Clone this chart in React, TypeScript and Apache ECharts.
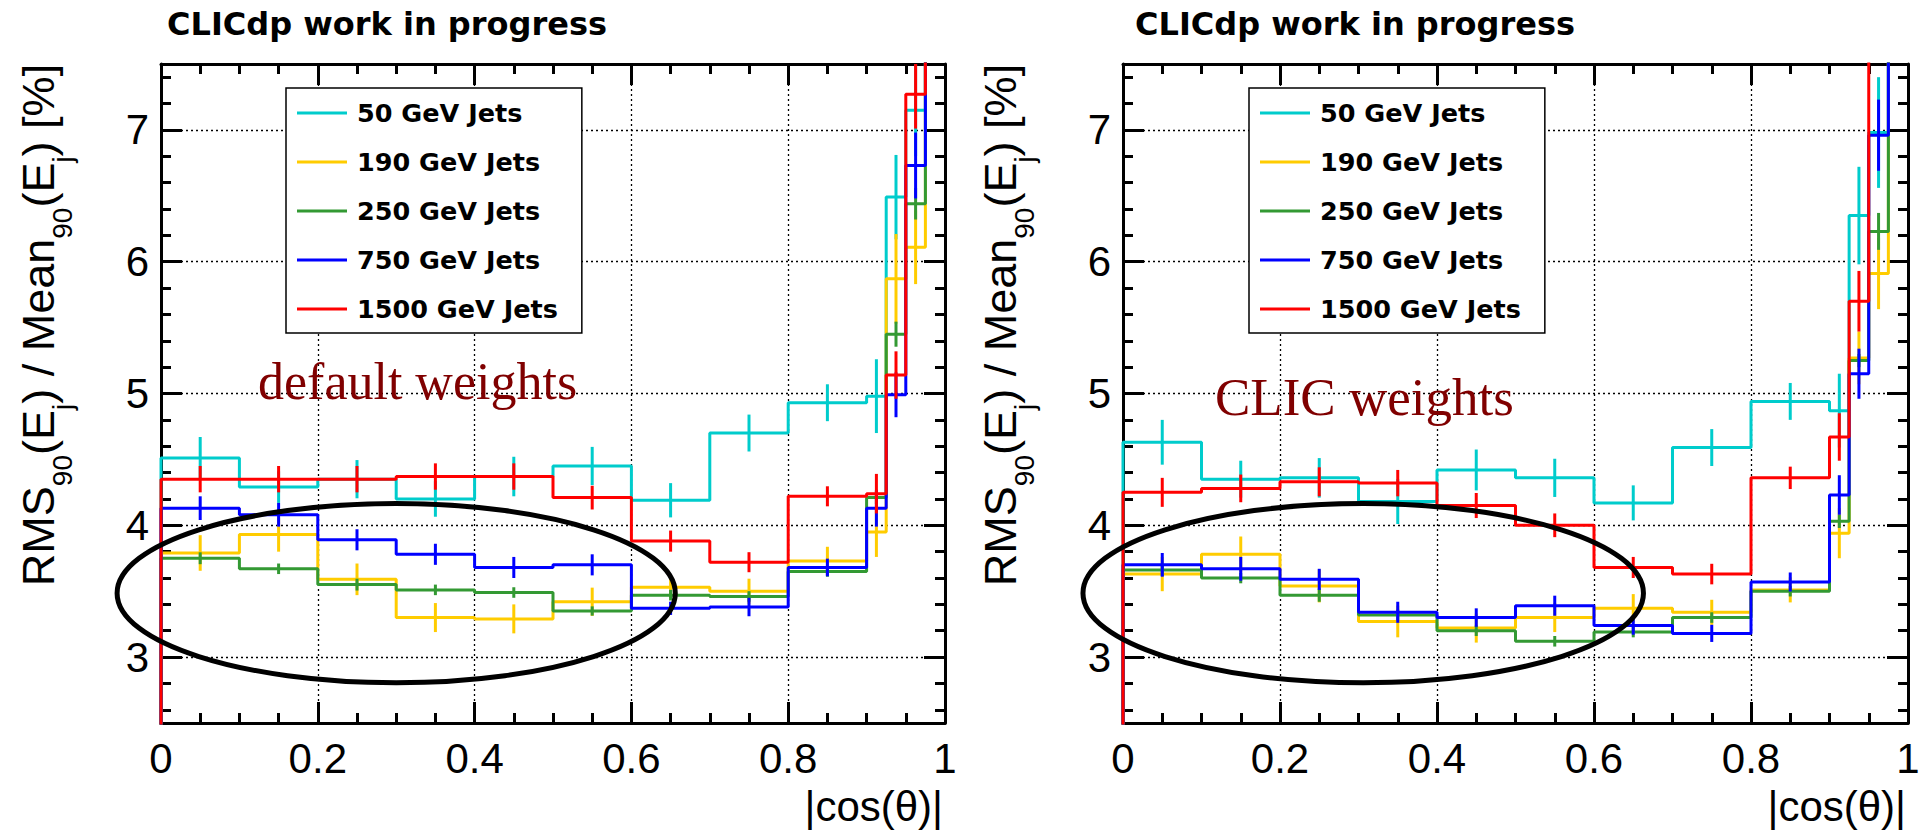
import React, { useEffect, useRef } from 'react';
import * as echarts from 'echarts';

// ---- data -------------------------------------------------------------
const BIN_EDGES = [0, 0.1, 0.2, 0.3, 0.4, 0.5, 0.6, 0.7, 0.8, 0.9, 0.925, 0.95, 0.975, 1.0];
const SERIES_NAMES = ['50 GeV Jets', '190 GeV Jets', '250 GeV Jets', '750 GeV Jets', '1500 GeV Jets'];
const SERIES_COLORS = ['#00cccc', '#ffcc00', '#339933', '#0000ff', '#ff0000'];
const Y_MIN = 2.5;
const Y_MAX = 7.5;
const X_MIN = 0;
const X_MAX = 1;
const PANEL_TITLES = ['CLICdp work in progress', 'CLICdp work in progress'];
const PANEL_NOTES = ['default weights', 'CLIC weights'];
const X_NAME = '|cos(θ)|';

// default weights panel (last bin lies above the plotted range)
const DEF_50 = [4.51, 4.29, 4.35, 4.2, 4.37, 4.45, 4.19, 4.7, 4.93, 4.98, 6.49, 7.15, 9.0];
const DEF_50_ERR = [0.16, 0.12, 0.145, 0.135, 0.15, 0.145, 0.13, 0.14, 0.14, 0.28, 0.32, 0.35, 0];
const DEF_190 = [3.79, 3.93, 3.59, 3.3, 3.29, 3.42, 3.53, 3.5, 3.73, 3.95, 5.87, 6.11, 9.0];
const DEF_190_ERR = [0.135, 0.13, 0.12, 0.11, 0.11, 0.107, 0.08, 0.095, 0.107, 0.19, 0.34, 0.28, 0];
const DEF_250 = [3.75, 3.67, 3.55, 3.51, 3.49, 3.35, 3.47, 3.46, 3.65, 4.21, 5.45, 6.44, 9.0];
const DEF_250_ERR = [0.045, 0.04, 0.045, 0.04, 0.04, 0.035, 0.04, 0.04, 0.04, 0.05, 0.095, 0.12, 0];
const DEF_750 = [4.13, 4.08, 3.89, 3.78, 3.68, 3.7, 3.37, 3.38, 3.68, 4.13, 4.99, 6.73, 9.0];
const DEF_750_ERR = [0.09, 0.09, 0.08, 0.08, 0.08, 0.08, 0.05, 0.07, 0.067, 0.14, 0.17, 0.25, 0];
const DEF_1500 = [4.35, 4.35, 4.35, 4.37, 4.37, 4.21, 3.88, 3.72, 4.22, 4.24, 5.14, 7.27, 9.0];
const DEF_1500_ERR = [0.1, 0.1, 0.1, 0.1, 0.1, 0.09, 0.08, 0.076, 0.076, 0.15, 0.18, 0.26, 0];

// CLIC weights panel
const CLIC_50 = [4.63, 4.35, 4.36, 4.18, 4.42, 4.36, 4.17, 4.59, 4.94, 4.87, 6.35, 6.98, 9.0];
const CLIC_50_ERR = [0.17, 0.14, 0.15, 0.17, 0.155, 0.145, 0.133, 0.14, 0.14, 0.28, 0.37, 0.42, 0];
const CLIC_190 = [3.63, 3.78, 3.54, 3.27, 3.22, 3.3, 3.37, 3.34, 3.51, 3.94, 5.27, 5.91, 9.0];
const CLIC_190_ERR = [0.13, 0.135, 0.125, 0.12, 0.11, 0.11, 0.108, 0.095, 0.095, 0.19, 0.2, 0.27, 0];
const CLIC_250 = [3.66, 3.6, 3.47, 3.32, 3.2, 3.12, 3.19, 3.3, 3.5, 4.03, 5.25, 6.23, 9.0];
const CLIC_250_ERR = [0.045, 0.04, 0.05, 0.04, 0.04, 0.04, 0.04, 0.04, 0.04, 0.05, 0.05, 0.14, 0];
const CLIC_750 = [3.7, 3.67, 3.59, 3.34, 3.3, 3.39, 3.24, 3.18, 3.57, 4.23, 5.15, 6.96, 9.0];
const CLIC_750_ERR = [0.09, 0.09, 0.08, 0.08, 0.07, 0.076, 0.07, 0.065, 0.072, 0.15, 0.19, 0.27, 0];
const CLIC_1500 = [4.25, 4.28, 4.33, 4.32, 4.15, 4.0, 3.68, 3.63, 4.36, 4.67, 5.7, 9.0, 9.0];
const CLIC_1500_ERR = [0.11, 0.105, 0.11, 0.1, 0.095, 0.09, 0.08, 0.078, 0.085, 0.18, 0.23, 0, 0];

const PANELS = [
  { values: [DEF_50, DEF_190, DEF_250, DEF_750, DEF_1500], errors: [DEF_50_ERR, DEF_190_ERR, DEF_250_ERR, DEF_750_ERR, DEF_1500_ERR] },
  { values: [CLIC_50, CLIC_190, CLIC_250, CLIC_750, CLIC_1500], errors: [CLIC_50_ERR, CLIC_190_ERR, CLIC_250_ERR, CLIC_750_ERR, CLIC_1500_ERR] },
];

// ellipse annotations, in data units: centre x, centre y, radius x, radius y
const ELLIPSES = [
  [0.3, 3.485, 0.356, 0.68],
  [0.306, 3.485, 0.357, 0.68],
];

// ---- layout -----------------------------------------------------------
const GRIDS = [
  { left: 161, top: 64, width: 784, height: 659 },
  { left: 1123, top: 64, width: 785, height: 659 },
];
const LEGEND_LEFT = [286, 1249];
const TITLE_X = [167, 1135];
const NOTE_POS = [[258, 381], [1215, 397]];
const YLABEL_X = [38, 1000];

const TICK_FONT = 'Liberation Sans';

// histogram outline: starts from the baseline at the first edge; the last bin leaves the plot at the top
function stepPoints(vals: number[]) {
  const pts: number[][] = [[BIN_EDGES[0], 0]];
  vals.forEach((v, i) => {
    pts.push([BIN_EDGES[i], v]);
    pts.push([BIN_EDGES[i + 1], v]);
  });
  return pts;
}

function errPoints(vals: number[], errs: number[]) {
  return vals.map((v, i) => [(BIN_EDGES[i] + BIN_EDGES[i + 1]) / 2, v, errs[i]]);
}

function xAxisCfg(gridIndex: number, position: 'bottom' | 'top', main: boolean) {
  return {
    type: 'value',
    gridIndex,
    position,
    min: X_MIN,
    max: X_MAX,
    interval: 0.2,
    axisLine: { show: true, onZero: false, lineStyle: { color: '#000', width: 3 } },
    axisTick: { show: true, inside: true, length: 21, lineStyle: { color: '#000', width: 3 } },
    minorTick: { show: true, splitNumber: 4, length: 10, lineStyle: { color: '#000', width: 3 } },
    axisLabel: { show: main, fontFamily: TICK_FONT, fontSize: 42, color: '#000', margin: 14 },
    splitLine: { show: main, lineStyle: { color: '#000', type: [2, 3], width: 1.3 } },
    minorSplitLine: { show: false },
  };
}

function yAxisCfg(gridIndex: number, position: 'left' | 'right', main: boolean) {
  return {
    type: 'value',
    gridIndex,
    position,
    min: Y_MIN,
    max: Y_MAX,
    splitNumber: 5,
    axisLine: { show: true, onZero: false, lineStyle: { color: '#000', width: 3 } },
    axisTick: { show: true, inside: true, length: 21, lineStyle: { color: '#000', width: 3 } },
    minorTick: { show: true, splitNumber: 5, length: 10, lineStyle: { color: '#000', width: 3 } },
    axisLabel: {
      show: main,
      fontFamily: TICK_FONT,
      fontSize: 42,
      color: '#000',
      margin: 12,
      formatter: (v: number) => (Math.abs(v - Math.round(v)) < 1e-9 ? String(Math.round(v)) : ''),
    },
    splitLine: { show: main, lineStyle: { color: '#000', type: [2, 3], width: 1.3 } },
    minorSplitLine: { show: false },
  };
}

export default function App() {
  const ref = useRef<HTMLDivElement>(null);

  useEffect(() => {
    if (!ref.current) return;
    const chart = echarts.init(ref.current, undefined, { renderer: 'svg' });

    const series: any[] = [];
    PANELS.forEach((panel, p) => {
      panel.values.forEach((vals, k) => {
        const color = SERIES_COLORS[k];
        series.push({
          type: 'line',
          name: SERIES_NAMES[k],
          xAxisIndex: 2 * p,
          yAxisIndex: 2 * p,
          data: stepPoints(vals),
          symbol: 'none',
          showSymbol: false,
          clip: true,
          silent: true,
          z: 10 + k,
          itemStyle: { color },
          lineStyle: { color, width: 3 },
        });
        series.push({
          type: 'custom',
          name: SERIES_NAMES[k] + ' errors',
          xAxisIndex: 2 * p,
          yAxisIndex: 2 * p,
          data: errPoints(vals, panel.errors[k]),
          encode: { x: 0, y: 1 },
          silent: true,
          z: 10 + k,
          renderItem: (params: any, api: any) => {
            const x = api.value(0);
            const v = api.value(1);
            const e = api.value(2);
            const lo = Math.max(v - e, Y_MIN);
            const hi = Math.min(v + e, Y_MAX);
            if (!(hi > lo)) return { type: 'group', children: [] };
            const a = api.coord([x, lo]);
            const b = api.coord([x, hi]);
            return {
              type: 'line',
              shape: { x1: a[0], y1: a[1], x2: b[0], y2: b[1] },
              style: { stroke: color, lineWidth: 3 },
            };
          },
        });
      });
    });

    const option: any = {
      animation: false,
      backgroundColor: '#fff',
      grid: GRIDS.map((g) => ({ ...g, containLabel: false })),
      xAxis: [xAxisCfg(0, 'bottom', true), xAxisCfg(0, 'top', false), xAxisCfg(1, 'bottom', true), xAxisCfg(1, 'top', false)],
      yAxis: [yAxisCfg(0, 'left', true), yAxisCfg(0, 'right', false), yAxisCfg(1, 'left', true), yAxisCfg(1, 'right', false)],
      legend: LEGEND_LEFT.map((left) => ({
        orient: 'vertical',
        left,
        top: 88,
        z: 20,
        data: SERIES_NAMES.map((n) => ({ name: n, icon: 'rect' })),
        itemWidth: 50,
        itemHeight: 3,
        itemGap: 23,
        padding: [12, 24, 11, 11],
        backgroundColor: '#fff',
        borderColor: '#000',
        borderWidth: 1.5,
        selectedMode: false,
        itemStyle: { borderWidth: 0 },
        textStyle: { fontFamily: 'DejaVu Sans', fontWeight: 'bold', fontSize: 25.5, color: '#000', lineHeight: 26, padding: [0, 0, 0, 5] },
      })),
      series,
    };
    chart.setOption(option);

    const graphics: any[] = [];
    [0, 1].forEach((p) => {
      graphics.push({
        type: 'text',
        x: TITLE_X[p],
        y: 24,
        style: { text: PANEL_TITLES[p], fontFamily: 'DejaVu Sans', fontWeight: 'bold', fontSize: 32, fill: '#000', align: 'left', verticalAlign: 'middle' },
      });
      graphics.push({
        type: 'text',
        x: YLABEL_X[p],
        y: 325,
        rotation: Math.PI / 2,
        style: {
          text: '{n|RMS}{s|90}{n|(E}{s|j}{n|) / Mean}{s|90}{n|(E}{s|j}{n|) [%]}',
          align: 'center',
          verticalAlign: 'middle',
          fill: '#000',
          rich: {
            n: { fontFamily: TICK_FONT, fontSize: 45, lineHeight: 76, fill: '#000' },
            s: { fontFamily: TICK_FONT, fontSize: 28, lineHeight: 30, verticalAlign: 'bottom', fill: '#000' },
          },
        },
      });
      const g = GRIDS[p];
      graphics.push({
        type: 'text',
        x: g.left + g.width - 2,
        y: 806,
        style: { text: X_NAME, fontFamily: TICK_FONT, fontSize: 42, fill: '#000', align: 'right', verticalAlign: 'middle' },
      });
      graphics.push({
        type: 'text',
        x: NOTE_POS[p][0],
        y: NOTE_POS[p][1],
        style: { text: PANEL_NOTES[p], fontFamily: 'Liberation Serif', fontSize: p === 0 ? 52 : 53, fill: '#800000', align: 'left', verticalAlign: 'middle' },
      });
      const [cxD, cyD, rxD, ryD] = ELLIPSES[p];
      const c = chart.convertToPixel({ gridIndex: p } as any, [cxD, cyD]) as number[];
      const e = chart.convertToPixel({ gridIndex: p } as any, [cxD + rxD, cyD + ryD]) as number[];
      graphics.push({
        type: 'ellipse',
        z: 50,
        shape: { cx: c[0], cy: c[1], rx: Math.abs(e[0] - c[0]), ry: Math.abs(c[1] - e[1]) },
        style: { fill: 'none', stroke: '#000', lineWidth: 5 },
        silent: true,
      });
    });
    chart.setOption({ graphic: graphics });

    return () => chart.dispose();
  }, []);

  return (
    <div
      ref={ref}
      style={{ position: 'absolute', left: 0, top: 0, width: 1927, height: 834, background: '#fff' }}
    />
  );
}
